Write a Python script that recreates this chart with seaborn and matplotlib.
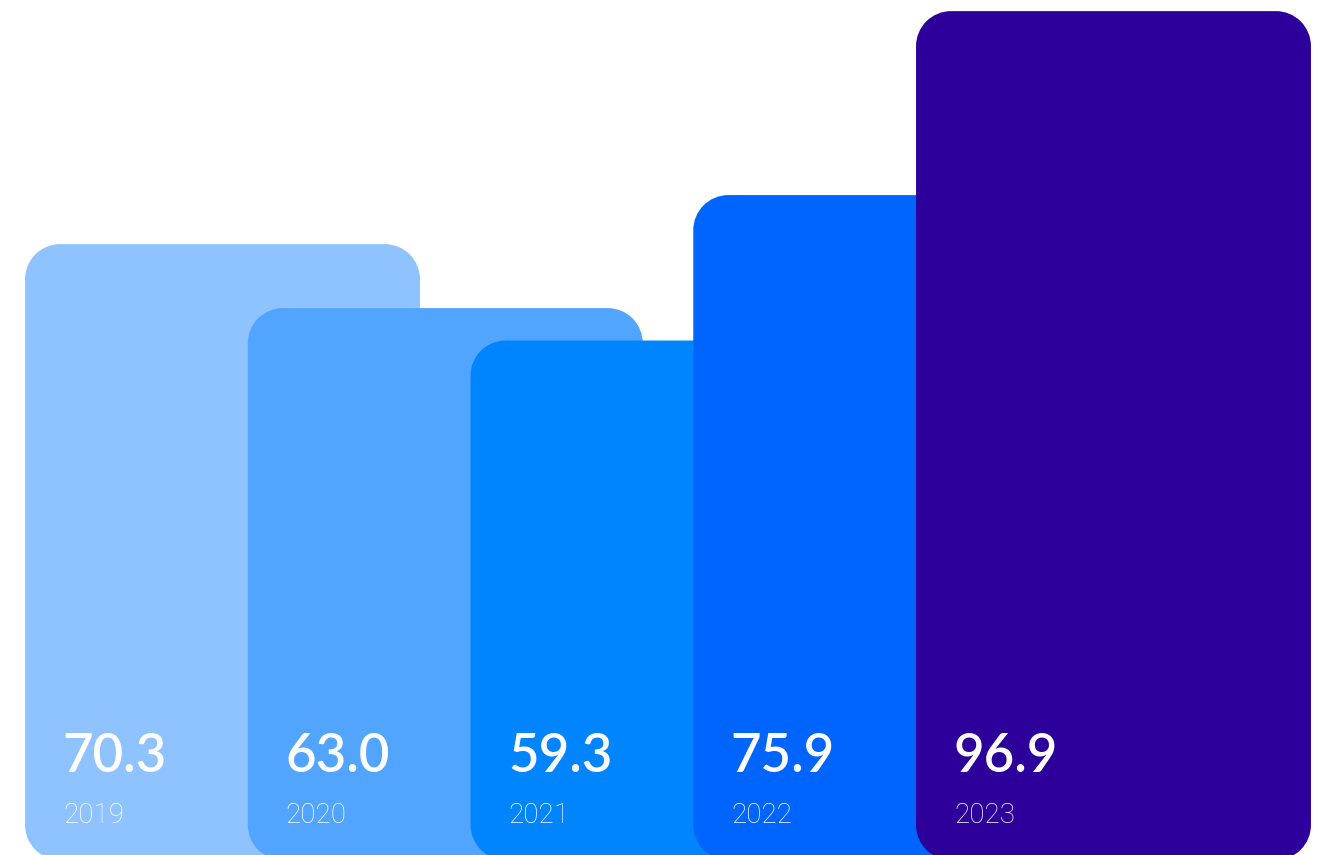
import matplotlib
matplotlib.use("Agg")
import matplotlib.pyplot as plt
from matplotlib.patches import PathPatch
from matplotlib.path import Path
import numpy as np
import seaborn as sns
import pandas as pd

years = ["2019", "2020", "2021", "2022", "2023"]
values = [70.3, 63.0, 59.3, 75.9, 96.9]
colors = ["#8fc3ff", "#52a5ff", "#0085ff", "#0064ff", "#2e009b"]

df = pd.DataFrame({"year": years, "value": values})

sns.set_theme(style="white")
plt.rcParams["font.family"] = ["Lato", "DejaVu Sans"]

W, H, DPI = 1326, 855, 100
fig = plt.figure(figsize=(W / DPI, H / DPI), dpi=DPI)
ax = fig.add_axes([0, 0, 1, 1])

bar_width = 1.773
sns.barplot(data=df, x="year", y="value", hue="year", palette=colors,
            width=bar_width, legend=False, ax=ax, saturation=1)

XLIM = (-0.999, 4.954)
YLIM = (0.57, 98.17)
ax.set_xlim(*XLIM)
ax.set_ylim(*YLIM)
ax.axis("off")

# size of one data unit in pixels, so the corner arcs stay circular
x_px = W / (XLIM[1] - XLIM[0])
y_px = H / (YLIM[1] - YLIM[0])
radius_px = 35
rx, ry = radius_px / x_px, radius_px / y_px


def rounded_rect(x0, y0, w, h):
    verts, codes = [], []

    def arc(cx, cy, t1, t2):
        p = Path.arc(t1, t2)
        v = p.vertices.copy()
        v[:, 0] = cx + v[:, 0] * rx
        v[:, 1] = cy + v[:, 1] * ry
        c = list(p.codes)
        c[0] = Path.LINETO
        verts.extend(v.tolist())
        codes.extend(c)

    verts.append([x0 + rx, y0])
    codes.append(Path.MOVETO)
    arc(x0 + w - rx, y0 + ry, 270, 360)
    arc(x0 + w - rx, y0 + h - ry, 0, 90)
    arc(x0 + rx, y0 + h - ry, 90, 180)
    arc(x0 + rx, y0 + ry, 180, 270)
    verts.append([x0 + rx, y0])
    codes.append(Path.CLOSEPOLY)
    return Path(np.array(verts), codes)


bars = list(ax.patches)
for i, bar in enumerate(bars):
    x0, y0 = bar.get_x(), bar.get_y()
    w, h = bar.get_width(), bar.get_height()
    fc = bar.get_facecolor()
    bar.remove()
    ax.add_patch(PathPatch(rounded_rect(x0, y0, w, h), facecolor=fc,
                           edgecolor="none", zorder=2 + i))
    ax.annotate(f"{values[i]:.1f}", xy=(x0, 0), xytext=(27.0, 63.4),
                textcoords="offset points", color="white", fontsize=38,
                fontweight="semibold", ha="left", va="baseline",
                annotation_clip=False, zorder=20)
    ax.annotate(years[i], xy=(x0, 0), xytext=(27.4, 26.6),
                textcoords="offset points", color="white", fontsize=20,
                family=["Roboto", "DejaVu Sans"], fontweight="light",
                ha="left", va="baseline", annotation_clip=False, zorder=20)

fig.savefig("out.png", dpi=DPI, facecolor="white")
